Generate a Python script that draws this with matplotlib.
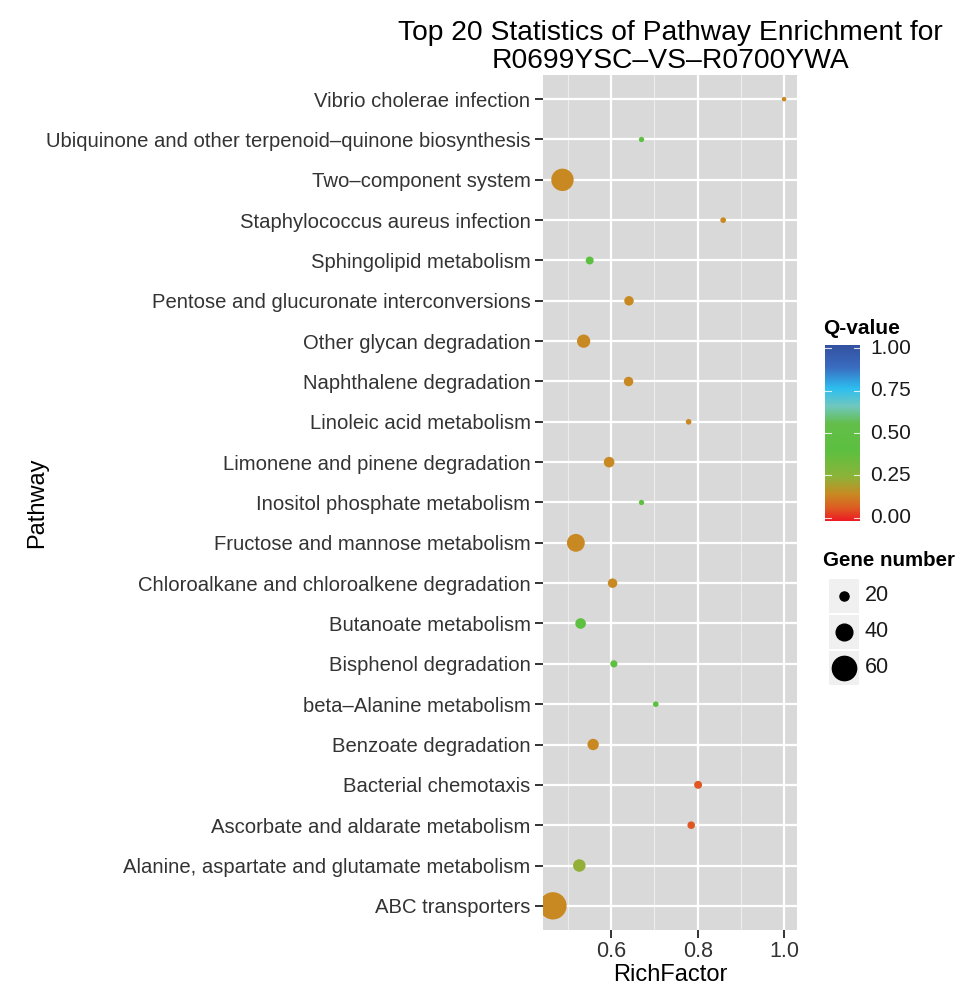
"""KEGG pathway enrichment bubble chart (top 20), ggplot-like styling."""

import matplotlib

matplotlib.use("Agg")
import matplotlib.pyplot as plt  # noqa: E402
import numpy as np  # noqa: E402
from matplotlib.colors import LinearSegmentedColormap  # noqa: E402

plt.rcParams["font.family"] = ["Liberation Sans", "DejaVu Sans"]

# bottom -> top, as they appear on the y axis
pathways = [
    "ABC transporters",
    "Alanine, aspartate and glutamate metabolism",
    "Ascorbate and aldarate metabolism",
    "Bacterial chemotaxis",
    "Benzoate degradation",
    "beta\u2013Alanine metabolism",
    "Bisphenol degradation",
    "Butanoate metabolism",
    "Chloroalkane and chloroalkene degradation",
    "Fructose and mannose metabolism",
    "Inositol phosphate metabolism",
    "Limonene and pinene degradation",
    "Linoleic acid metabolism",
    "Naphthalene degradation",
    "Other glycan degradation",
    "Pentose and glucuronate interconversions",
    "Sphingolipid metabolism",
    "Staphylococcus aureus infection",
    "Two\u2013component system",
    "Ubiquinone and other terpenoid\u2013quinone biosynthesis",
    "Vibrio cholerae infection",
]
rich_factor = [0.465, 0.526, 0.785, 0.801, 0.558, 0.703, 0.606, 0.529, 0.603,
               0.518, 0.670, 0.595, 0.779, 0.640, 0.536, 0.641, 0.550, 0.859,
               0.487, 0.670, 1.000]
gene_number = [68, 29, 16, 17, 26, 11, 15, 24, 21, 43, 10, 24, 11, 21, 31, 21,
               17, 11, 55, 10, 8]
q_value = [0.15, 0.24, 0.07, 0.07, 0.15, 0.42, 0.42, 0.42, 0.15, 0.15, 0.42,
           0.15, 0.15, 0.15, 0.15, 0.15, 0.42, 0.15, 0.15, 0.42, 0.15]

x_ticks = [0.6, 0.8, 1.0]
cbar_ticks = [0.0, 0.25, 0.5, 0.75, 1.0]
size_breaks = [20, 40, 60]

cmap = LinearSegmentedColormap.from_list("qval", [
    (0.00, "#EC1C24"), (0.07, "#DE5A22"), (0.15, "#C98A22"),
    (0.25, "#8CB43A"), (0.40, "#5CC040"), (0.55, "#64BE4A"),
    (0.65, "#70C8C0"), (0.75, "#2DBEF0"), (0.87, "#3A6CC0"),
    (1.00, "#34509F"),
])

DPI = 100


def marker_area(n):
    d_px = 0.38 * np.asarray(n, dtype=float) + 1.5
    return (d_px * 72.0 / DPI) ** 2


fig = plt.figure(figsize=(9.64, 9.85), dpi=DPI)
ax = fig.add_axes([0.5633, 0.0558, 0.2635, 0.8681])
ax.set_facecolor("#D9D9D9")

ypos = np.arange(len(pathways))
ax.set_xlim(0.442, 1.03)
ax.set_ylim(-0.6, len(pathways) - 0.4)
for xm in [0.5, 0.7, 0.9]:
    ax.axvline(xm, color="#ECECEC", lw=0.8, zorder=1)
for xm in x_ticks:
    ax.axvline(xm, color="white", lw=1.6, zorder=1)
for y in ypos:
    ax.axhline(y, color="white", lw=1.6, zorder=1)

ax.scatter(rich_factor, ypos, s=marker_area(gene_number), c=q_value,
           cmap=cmap, vmin=0, vmax=1, linewidths=0, zorder=3)

for side in ax.spines.values():
    side.set_visible(False)
ax.set_xticks(x_ticks)
ax.set_xticklabels([f"{v:.1f}" for v in x_ticks])
ax.set_yticks(ypos)
ax.set_yticklabels(pathways)
ax.tick_params(axis="both", colors="#333333", labelcolor="#333333",
               labelsize=14.6, length=6, width=1.4, pad=3)
ax.tick_params(axis="x", labelsize=15.5, pad=2)
ax.set_xlabel("RichFactor", fontsize=17, labelpad=1)
ax.set_ylabel("Pathway", fontsize=17)
ax.yaxis.set_label_coords(-1.95, 0.5)
ax.set_title("Top 20 Statistics of Pathway Enrichment for\nR0699YSC\u2013VS\u2013R0700YWA",
             fontsize=20.3, pad=5, linespacing=1.1)

# Q-value colour bar
cax = fig.add_axes([0.8558, 0.471, 0.0363, 0.1787])
grad = np.linspace(0, 1, 256).reshape(-1, 1)
cax.imshow(grad, aspect="auto", cmap=cmap, origin="lower",
           extent=[0, 1, -0.02, 1.02])
cax.set_xlim(0, 1)
cax.set_ylim(-0.02, 1.02)
for t in cbar_ticks:
    cax.plot([0, 0.18], [t, t], color="white", lw=0.8, alpha=0.8)
    cax.plot([0.82, 1], [t, t], color="white", lw=0.8, alpha=0.8)
    cax.text(1.3, t, f"{t:.2f}", fontsize=15, va="center", ha="left",
             color="#1A1A1A")
cax.set_xticks([])
cax.set_yticks([])
for side in cax.spines.values():
    side.set_visible(False)
fig.text(0.854, 0.667, "Q-value", fontsize=15, fontweight="bold",
         ha="left", va="center")

# Gene number size legend
fig.text(0.854, 0.431, "Gene number", fontsize=14.8, fontweight="bold",
         ha="left", va="center")
lax = fig.add_axes([0.859, 0.3036, 0.0332, 0.1097])
lax.set_xlim(0, 1)
lax.set_ylim(0, len(size_breaks))
for i, n in enumerate(size_breaks):
    yc = len(size_breaks) - i - 0.5
    lax.add_patch(plt.Rectangle((0, yc - 0.5), 1, 1, facecolor="#F0F0F0",
                                edgecolor="white", lw=1.5))
    lax.scatter([0.5], [yc], s=marker_area(n), color="black", zorder=3)
    lax.text(1.15, yc, str(n), fontsize=15.5, va="center", ha="left",
             color="#1A1A1A")
lax.axis("off")

fig.savefig("out.png", dpi=DPI)
plt.close(fig)
